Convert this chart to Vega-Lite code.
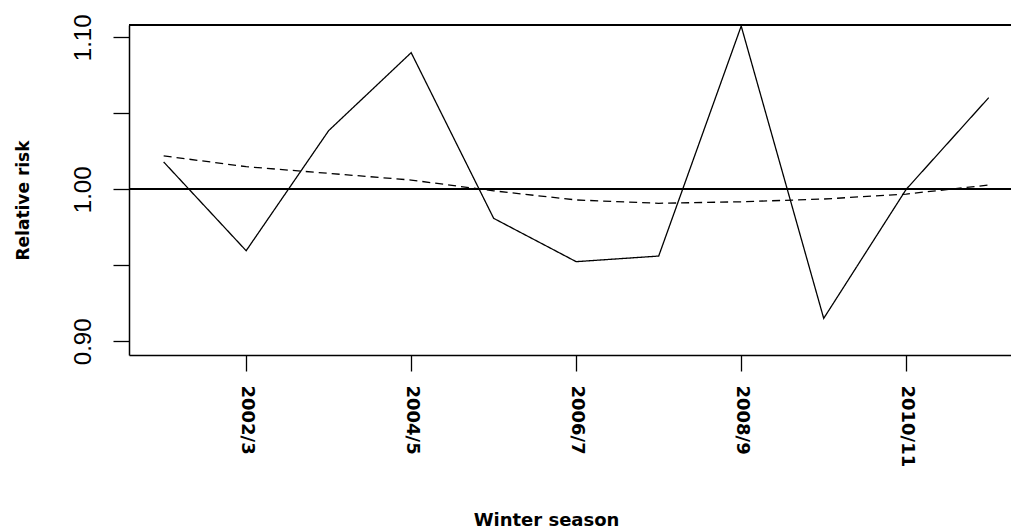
{
  "$schema": "https://vega.github.io/schema/vega-lite/v6.json",
  "autosize": {"type": "none"},
  "padding": {"left": 129, "top": 25, "right": 0, "bottom": 173},
  "width": 882,
  "height": 330,
  "background": "white",
  "config": {
    "view": {"stroke": null},
    "axis": {"grid": false, "domainColor": "black", "tickColor": "black", "labelColor": "black", "titleColor": "black", "domainWidth": 1.5, "tickWidth": 1.3, "tickSize": 16}
  },
  "data": {
    "values": [
      {"idx": 1, "season": "2001/2", "rr": 1.018, "trend": 1.022},
      {"idx": 2, "season": "2002/3", "rr": 0.9596, "trend": 1.0149},
      {"idx": 3, "season": "2003/4", "rr": 1.0386, "trend": 1.0105},
      {"idx": 4, "season": "2004/5", "rr": 1.0899, "trend": 1.0061},
      {"idx": 5, "season": "2005/6", "rr": 0.9809, "trend": 0.999},
      {"idx": 6, "season": "2006/7", "rr": 0.9524, "trend": 0.993},
      {"idx": 7, "season": "2007/8", "rr": 0.9561, "trend": 0.9908},
      {"idx": 8, "season": "2008/9", "rr": 1.1074, "trend": 0.9918},
      {"idx": 9, "season": "2009/10", "rr": 0.9151, "trend": 0.9936},
      {"idx": 10, "season": "2010/11", "rr": 1.0, "trend": 0.9969},
      {"idx": 11, "season": "2011/12", "rr": 1.0603, "trend": 1.0028}
    ]
  },
  "layer": [
    {
      "transform": [{"fold": ["rr", "trend"], "as": ["series", "value"]}],
      "mark": {"type": "line", "color": "black", "strokeWidth": 1.3, "clip": true},
      "encoding": {
        "x": {
          "field": "idx", "type": "quantitative",
          "scale": {"domain": [0.58, 11.27], "nice": false, "zero": false},
          "axis": {
            "values": [2, 4, 6, 8, 10],
            "labelExpr": "(2000 + datum.value) + '/' + (datum.value + 1)",
            "labelAngle": 90, "labelAlign": "left", "labelBaseline": "middle",
            "labelFont": "DejaVu Sans", "labelFontWeight": "bold", "labelFontSize": 18,
            "labelPadding": 14,
            "title": "Winter season",
            "titleFont": "DejaVu Sans", "titleFontWeight": "bold", "titleFontSize": 18,
            "titleX": 417, "titleY": 170, "titleBaseline": "alphabetic", "titleAlign": "center"
          }
        },
        "y": {
          "field": "value", "type": "quantitative",
          "scale": {"domain": [0.891, 1.1081], "nice": false, "zero": false},
          "axis": {
            "values": [0.9, 0.95, 1.0, 1.05, 1.1],
            "labelExpr": "(datum.value == 0.95 || datum.value == 1.05) ? '' : format(datum.value, '.2f')",
            "labelAngle": 270, "labelAlign": "center", "labelBaseline": "alphabetic",
            "labelFont": "Liberation Sans", "labelFontSize": 24, "labelPadding": 23,
            "labelOverlap": false,
            "title": "Relative risk",
            "titleFont": "DejaVu Sans", "titleFontWeight": "bold", "titleFontSize": 17,
            "titleAngle": 270, "titleX": -101, "titleY": 175, "titleBaseline": "alphabetic", "titleAlign": "center"
          }
        },
        "strokeDash": {
          "field": "series", "type": "nominal",
          "scale": {"domain": ["rr", "trend"], "range": [[1, 0], [8, 5]]},
          "legend": null
        }
      }
    },
    {
      "mark": {"type": "rule", "color": "black", "strokeWidth": 1.5},
      "encoding": {"y": {"datum": 1.0, "type": "quantitative"}}
    },
    {
      "mark": {"type": "rule", "color": "black", "strokeWidth": 1.5},
      "encoding": {"y": {"datum": 1.1081, "type": "quantitative"}}
    }
  ]
}
